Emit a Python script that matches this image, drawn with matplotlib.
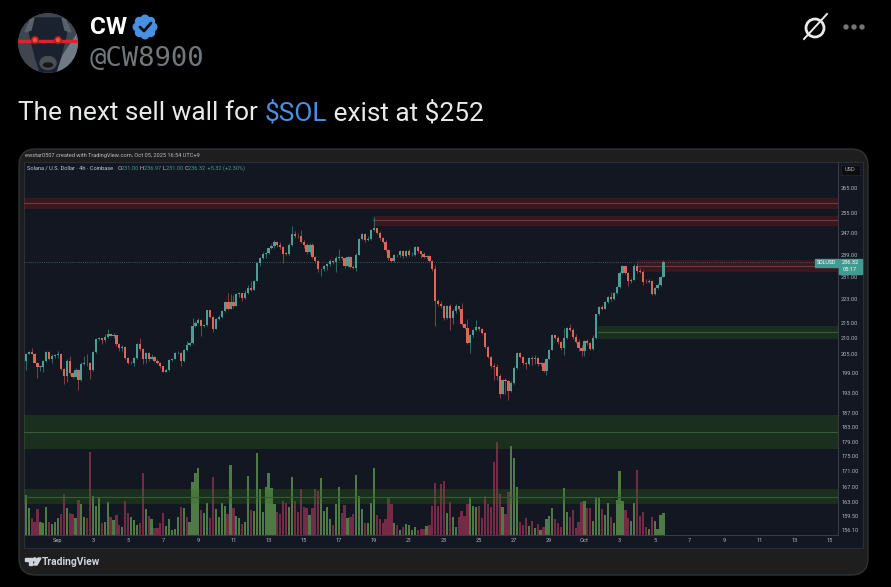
import matplotlib
matplotlib.use("Agg")
import matplotlib.pyplot as plt
from matplotlib.patches import Circle, FancyBboxPatch, Rectangle, Polygon, Ellipse
from matplotlib.ticker import FixedLocator, FixedFormatter, NullLocator

W, H = 891, 587

first_open = 202.7
closes = [
205.1,205.7,205.1,202.2,200.9,200.9,202.7,205.6,203.3,204.3,
204.6,204.9,200.4,198.2,202.9,199.0,197.9,200.0,196.8,201.9,
202.2,202.0,200.0,205.6,209.7,210.0,209.5,210.5,211.5,210.7,
211.0,208.3,207.0,207.3,203.8,202.0,202.2,203.8,208.1,206.5,
203.5,205.4,203.5,204.0,202.7,202.2,201.1,199.5,200.0,203.0,
203.5,205.2,205.4,202.7,206.2,207.8,208.4,214.2,215.2,216.1,
214.0,214.4,219.3,217.2,212.9,216.3,217.2,219.1,222.0,219.8,
222.0,220.9,224.8,225.2,223.6,225.4,227.1,226.4,229.3,235.9,
237.6,239.3,239.7,241.3,242.4,243.7,242.7,241.9,239.3,239.2,
242.7,246.8,246.0,245.8,243.9,242.7,239.9,242.7,238.2,236.7,
233.6,233.9,235.0,235.6,236.7,236.3,237.9,238.2,237.6,234.8,
238.2,234.4,234.2,239.0,244.9,246.8,244.6,244.8,248.3,248.9,
247.3,245.2,243.9,240.8,237.6,236.5,239.0,238.8,240.2,238.4,
240.4,238.8,239.0,241.9,240.2,239.3,238.2,238.4,236.7,233.6,
222.4,221.4,220.7,216.8,220.7,216.8,219.0,220.7,219.6,214.6,
213.3,208.6,211.0,212.6,213.8,213.2,211.9,207.3,204.1,201.2,
200.8,198.1,192.6,196.8,196.5,193.5,196.0,200.7,205.4,204.1,
202.0,201.7,203.7,203.5,203.7,201.7,202.0,199.6,203.5,206.4,
211.0,210.2,208.8,206.9,210.2,213.3,212.8,210.5,208.8,206.9,
205.9,209.1,208.5,206.6,210.2,217.9,220.5,219.8,222.0,223.9,
223.0,225.3,227.3,232.3,235.0,232.3,229.3,229.9,235.0,232.9,
232.5,229.1,229.0,229.5,224.9,226.9,228.1,231.0,236.32]

highs = [
205.4,205.9,207.0,205.4,202.4,201.3,203.0,205.9,205.9,204.9,
205.1,205.9,205.4,200.6,203.3,204.5,199.2,200.6,200.3,202.4,
204.5,204.9,202.4,205.9,210.0,210.5,210.2,211.3,212.9,211.8,
211.6,211.2,208.6,207.8,207.5,204.1,202.7,204.1,208.4,210.2,
207.0,205.7,205.6,204.9,204.3,203.3,202.4,201.3,200.3,203.3,
203.8,205.6,205.9,205.6,206.7,209.1,208.8,216.6,215.6,216.6,
216.3,214.8,219.5,219.3,217.4,216.6,217.7,219.5,222.5,225.2,
225.0,224.5,225.4,225.6,225.4,226.2,227.9,229.3,229.8,236.2,
238.2,239.9,240.1,241.6,243.1,244.3,243.9,243.6,242.4,240.1,
243.3,249.8,248.0,247.3,248.3,244.6,243.3,243.3,243.3,238.4,
237.0,234.2,235.3,235.9,237.4,237.0,238.4,241.0,238.4,237.8,
238.5,238.4,235.3,239.5,245.2,247.3,247.0,245.8,248.7,253.3,
248.9,248.0,245.6,244.6,241.2,237.8,239.3,239.3,240.6,240.8,
240.8,241.2,240.1,242.2,242.2,240.4,239.9,239.0,238.7,237.0,
235.2,223.0,222.4,221.0,221.0,221.3,219.6,221.3,220.7,221.9,
214.9,216.4,211.3,212.9,216.0,214.0,213.5,212.1,207.5,204.5,
202.0,201.7,198.6,197.2,197.6,197.0,196.5,201.2,205.6,205.6,
204.3,202.4,203.9,204.3,204.8,204.1,202.4,202.4,203.8,206.7,
211.3,211.0,210.8,209.2,213.5,213.8,214.6,213.5,211.3,209.7,
208.0,209.5,209.7,208.9,211.0,218.2,220.7,221.0,222.4,224.1,
225.5,225.5,227.8,232.9,235.2,235.0,232.6,230.5,235.4,236.0,
234.1,233.5,230.1,230.1,229.9,227.3,228.7,231.4,236.97]

lows = [
200.0,204.9,204.9,202.0,197.4,199.8,199.5,202.4,203.0,202.2,
203.8,203.8,200.0,195.8,196.3,198.4,197.4,197.7,193.8,196.6,
201.4,201.1,197.1,199.8,205.4,209.5,208.1,208.8,210.2,210.7,
210.1,207.5,205.9,205.9,203.5,201.7,201.7,201.1,203.3,205.9,
201.7,202.2,202.7,203.3,202.4,201.9,200.6,199.2,199.3,199.8,
202.7,203.3,204.9,201.3,202.4,205.9,207.5,208.1,213.7,215.0,
210.8,213.7,214.0,216.6,212.0,212.9,216.1,216.6,218.8,219.3,
219.6,220.2,221.0,223.8,222.6,223.3,225.0,226.0,226.2,229.3,
235.0,237.4,237.8,239.3,241.0,241.6,241.9,241.2,235.9,238.7,
239.0,242.4,245.2,245.2,243.3,241.6,239.3,239.3,237.6,235.9,
232.5,231.3,233.0,233.4,235.0,235.5,232.5,237.0,237.0,234.2,
234.4,234.2,233.8,233.0,238.7,244.3,243.9,244.2,244.3,248.0,
246.8,244.6,243.3,240.1,237.0,236.2,236.2,238.2,238.2,237.9,
238.2,238.4,238.4,238.5,239.7,237.8,237.6,237.4,236.4,233.0,
214.1,220.6,220.2,216.2,216.4,212.6,214.6,218.4,219.0,214.2,
212.9,208.3,205.2,210.5,212.4,212.4,211.3,207.0,203.8,200.7,
197.0,196.8,191.6,192.6,192.6,190.9,193.3,195.8,200.4,203.7,
201.6,200.2,201.4,201.4,201.7,201.2,201.2,199.3,198.3,203.3,
206.2,209.7,208.2,206.4,204.8,209.7,212.4,209.9,208.4,205.9,
204.5,204.3,208.0,206.4,206.4,209.9,217.6,219.4,219.6,221.9,
222.4,222.8,225.0,227.0,232.1,232.1,227.6,228.7,229.7,232.3,
232.3,228.1,228.9,228.7,224.6,224.4,226.6,227.8,231.0]

volumes = [
120,80,50,40,78,38,37,85,40,32,40,50,63,123,80,65,63,50,105,93,
53,50,250,117,87,110,35,40,100,55,45,60,30,25,102,67,55,45,30,37,
185,78,57,47,22,22,35,65,27,47,15,17,55,83,80,53,40,160,187,200,
75,65,95,52,175,77,53,95,87,63,210,80,57,50,33,38,177,75,73,247,
137,70,143,185,142,93,70,63,102,97,85,175,102,70,137,85,80,60,80,137,
133,170,72,83,47,30,92,145,65,90,50,
53,62,180,117,77,37,35,97,202,60,
48,37,47,112,93,37,30,15,23,32,
30,15,23,15,17,19,27,30,87,155,
87,152,162,67,100,55,25,53,73,57,
93,112,88,83,88,50,118,93,83,220,
280,122,83,63,130,267,230,143,40,30,
52,27,42,20,32,15,23,48,58,80,
47,35,25,140,68,53,75,22,40,100,
103,82,82,43,115,113,78,60,95,53,
35,105,192,103,75,52,43,95,195,57,
70,23,18,53,43,17,60,65]

volume_dirs = ("GGRRRGGGRG" "GGRRGRRGRG" "GRRGGGRGGR" "GRRGRRGGGR" "RGRGRRRRGG"
               "GGGRGRGGGG" "RGGRRGGGGR" "GRGGRGGRGG" "GGGGGGRRRR" "GGRRRRRGRR"
               "RGGGGRGGRRG"
               "RRGGGRGGGR" "RRRRRGRGRG" "GGGRRRGRRR" "RRRGRGGRRR" "RGGGRRRRRR"
               "RRGRRGGGRR" "RGRGRGRGGG" "RRRGGRRRRR" "GRRGGGRGGR" "GGGGRRGGRR"
               "RRGRGGGG")

price_ticks = [265, 255, 247, 239, 231, 223, 215, 210, 205, 199, 193, 187,
               183, 179, 175, 171, 167, 163, 159.5, 156.1]
day_ticks = [0, 2, 4, 6, 8, 10, 12, 14, 16, 18, 20, 22, 24, 26, 28, 30, 32,
             34, 36, 38, 40, 42, 44]
day_labels = ["Sep", "3", "5", "7", "9", "11", "13", "15", "17", "19", "21",
              "23", "25", "27", "29", "Oct", "3", "5", "7", "9", "11", "13", "15"]

# zones: start day, low, high, mid
red_zones = [(-2.0, 256.5, 260.9, 258.7), (17.95, 250.0, 253.7, 252.0), (33.0, 232.5, 237.1, 235.0)]
green_zones = [(30.8, 209.9, 213.9, 212.0), (-2.0, 177.1, 186.5, 181.8), (-2.0, 162.5, 166.3, 164.3)]
last_price = 236.32

BG = "#131722"
UP, DOWN = "#4b9f93", "#df6558"
UP_W, DOWN_W = "#2d6a64", "#84403f"
VOL_UP, VOL_DOWN = "#4d7a45", "#752a45"
FONT = "Roboto"
TXT_SMALL = 4.05

fig = plt.figure(figsize=(W / 100, H / 100), dpi=100, facecolor="black")


def pane_rect(x0, y0, x1, y1):
    return [x0 / W, 1 - y1 / H, (x1 - x0) / W, (y1 - y0) / H]


def overlay(z):
    a = fig.add_axes([0, 0, 1, 1], zorder=z)
    a.set_xlim(0, W)
    a.set_ylim(H, 0)
    a.axis("off")
    a.patch.set_alpha(0)
    return a


back = overlay(0)

# avatar
clip = Circle((48, 43), 30, transform=back.transData)
av = [Circle((48, 43), 30, color="#3f4650"),
      Polygon([(60, 60), (80, 30), (80, 75), (56, 75)], color="#6f7a84"),
      Polygon([(28, 22), (34, 18), (62, 18), (68, 22), (66, 36), (61, 56), (56, 72), (40, 72), (35, 56), (30, 36)],
              color="#1a2230"),
      Polygon([(62, 18), (66, 20), (71, 32), (65, 30)], color="#59616b"),
      Polygon([(34, 18), (30, 20), (25, 32), (31, 30)], color="#59616b"),
      Ellipse((48, 63), 16, 13, color="#4a4f56"),
      Ellipse((48, 65), 9, 4, color="#16181c"),
      Rectangle((18, 40.4), 60, 1.2, color="#d8262a"),
      Circle((35, 40), 3.4, color="#a81d20"),
      Circle((58, 40), 3.4, color="#a81d20"),
      Circle((35, 40), 1.7, color="#ff4a3d"),
      Circle((58, 40), 1.7, color="#ff4a3d")]
for p in av:
    back.add_patch(p)
    p.set_clip_path(clip)

back.text(90, 27.5, "CW", color="white", fontsize=17.5, fontweight="bold", family=FONT, va="center", ha="left")
BLUE = "#4a90e2"
for dx, dy in [(0, -8), (5.7, -5.7), (8, 0), (5.7, 5.7), (0, 8), (-5.7, 5.7), (-8, 0), (-5.7, -5.7)]:
    back.add_patch(Circle((145 + dx, 27 + dy), 3.8, color=BLUE))
back.add_patch(Circle((145, 27), 9, color=BLUE))
back.plot([140, 144, 151], [27, 31, 23], color="#101010", lw=2, solid_capstyle="round")
back.text(90, 59, "@CW8900", color="#71767b", fontsize=19.6, family="DejaVu Sans Mono", va="center", ha="left")

# tweet text, three runs
r = fig.canvas.get_renderer()
TW = 18.9
x = 18
for s, col in [("The next sell wall for ", "#e7e9ea"), ("$SOL", "#4a90e2"), (" exist at $252", "#e7e9ea")]:
    t = back.text(x, 113, s, color=col, fontsize=TW, family=FONT, va="center", ha="left", parse_math=False)
    m = back.text(0, 0, s + ".", fontsize=TW, family=FONT, parse_math=False)
    d = back.text(0, 0, ".", fontsize=TW, family=FONT)
    x += (m.get_window_extent(r).width - d.get_window_extent(r).width)
    m.remove()
    d.remove()

# top right icons
back.add_patch(Circle((815, 28), 9, fill=False, ec="#e7e9ea", lw=2))
back.plot([804, 827], [39, 14], color="#e7e9ea", lw=1.4)
for cx in (846, 854, 862):
    back.add_patch(Circle((cx, 27), 2, color="#71767b"))

# card
back.add_patch(FancyBboxPatch((19, 149), 849, 426, boxstyle="round,pad=0,rounding_size=17",
                              fc="#1e1e1e", ec="#2f3336", lw=1))
back.add_patch(Rectangle((23.5, 161.5), 839, 386, fc=BG, ec="#2a2e39", lw=0.8))
back.text(25, 155.5, "ewstar0507 created with TradingView.com, Oct 05, 2025 16:54 UTC+9", color="#b8bcc4",
          fontsize=TXT_SMALL, family=FONT, va="center", ha="left")

# TradingView mark
back.add_patch(Polygon([(25, 558), (32, 558), (32, 565), (29, 565), (29, 561), (25, 561)], color="#d1d4dc"))
back.add_patch(Polygon([(38, 558), (41, 558), (37, 565), (33.5, 565)], color="#d1d4dc"))
back.add_patch(Circle((34.7, 559.5), 1.6, color="#d1d4dc"))
back.text(42, 561.8, "TradingView", color="#d1d4dc", fontsize=7.4, fontweight="bold", family=FONT, va="center", ha="left")

t0 = -1.83
xs = [t0 + i / 6 for i in range(len(closes))]
opens = [first_open] + closes[:-1]
xlim = ((24 - 57.9) / 17.55, (838 - 57.9) / 17.55)
bar_w = 0.76 / 6

# volume
vax = fig.add_axes(pane_rect(24, 162, 838, 535), zorder=1, facecolor=BG)
vax.bar(xs[:len(volumes)], volumes, width=bar_w, color=[VOL_UP if d == "G" else VOL_DOWN for d in volume_dirs], linewidth=0)
vax.set_xlim(*xlim)
vax.set_ylim(0, 280 * 373 / 93.3)
vax.axis("off")
vax.patch.set_visible(True)

# price
ax = fig.add_axes(pane_rect(24, 162, 838, 535), zorder=2)
ax.patch.set_alpha(0)
ax.set_yscale("log")
ax.set_ylim(154.95, 275.8)
ax.set_xlim(*xlim)
for s in ax.spines.values():
    s.set_visible(False)
ax.spines["right"].set_visible(True)
ax.spines["right"].set_color("#363a45")
ax.spines["bottom"].set_visible(True)
ax.spines["bottom"].set_color("#363a45")
ax.yaxis.tick_right()
ax.yaxis.set_major_locator(FixedLocator(price_ticks))
ax.yaxis.set_major_formatter(FixedFormatter([f"{p:.2f}" for p in price_ticks]))
ax.yaxis.set_minor_locator(NullLocator())
ax.xaxis.set_major_locator(FixedLocator(day_ticks))
ax.xaxis.set_major_formatter(FixedFormatter(day_labels))
ax.xaxis.set_minor_locator(NullLocator())
ax.tick_params(axis="y", length=0, pad=2.2, labelsize=TXT_SMALL, labelcolor="#b2b5be")
ax.tick_params(axis="x", length=0, pad=2.5, labelsize=TXT_SMALL, labelcolor="#b2b5be")
for lab in ax.get_xticklabels() + ax.get_yticklabels():
    lab.set_family(FONT)

for start, lo, hi, mid in red_zones:
    ax.fill_between([start, xlim[1]], lo, hi, color="#a51a1a", alpha=0.27, linewidth=0, zorder=1)
    ax.plot([start, xlim[1]], [mid, mid], color="#6f3a40", lw=0.8, zorder=1.1)
for start, lo, hi, mid in green_zones:
    ax.fill_between([start, xlim[1]], lo, hi, color="#33731a", alpha=0.27, linewidth=0, zorder=1)
    ax.plot([start, xlim[1]], [mid, mid], color="#385c35", lw=0.8, zorder=1.1)

ax.axhline(last_price, color="#3f6f6b", lw=0.6, ls=(0, (1, 1.6)), zorder=1.2)

for xv, o, h, l, c in zip(xs, opens, highs, lows, closes):
    up = c >= o
    ax.vlines(xv, min(l, o, c), max(h, o, c), color=UP_W if up else DOWN_W, lw=0.7, zorder=2)
    ax.add_patch(Rectangle((xv - bar_w / 2, min(o, c)), bar_w, max(abs(c - o), 0.25), fc=UP if up else DOWN, ec="none", zorder=3))

top = overlay(3)
# legend line, one run per colour
TEAL = "#3f9c90"
x = 27
for s, col in [("Solana / U.S. Dollar · 4h · Coinbase   ", "#c5c8cf"), ("O", "#c5c8cf"), ("231.00 ", TEAL),
               ("H", "#c5c8cf"), ("236.97 ", TEAL), ("L", "#c5c8cf"), ("231.00 ", TEAL), ("C", "#c5c8cf"),
               ("236.32 ", TEAL), (" +5.32 (+2.30%)", TEAL)]:
    top.text(x, 168.5, s, color=col, fontsize=TXT_SMALL, family=FONT, va="center", ha="left")
    m = top.text(0, 0, s + ".", fontsize=TXT_SMALL, family=FONT)
    d = top.text(0, 0, ".", fontsize=TXT_SMALL, family=FONT)
    x += m.get_window_extent(r).width - d.get_window_extent(r).width
    m.remove()
    d.remove()

# price tags
top.add_patch(Rectangle((815, 259), 23, 8, color=TEAL))
top.add_patch(Rectangle((838.5, 259), 23, 14.5, color=TEAL))
top.text(826.5, 263, "SOLUSD", color="white", fontsize=3.8, family=FONT, ha="center", va="center")
top.text(850, 263, "236.32", color="white", fontsize=TXT_SMALL, family=FONT, ha="center", va="center")
top.text(850, 269.5, "05:17", color="white", fontsize=TXT_SMALL, family=FONT, ha="center", va="center")
top.add_patch(Rectangle((840.5, 164.5), 19.5, 10, color="#0d0d0f", ec="#23262f", lw=0.5))
top.text(850, 169.7, "USD", color="#b2b5be", fontsize=TXT_SMALL, family=FONT, ha="center", va="center")

fig.savefig("out.png", dpi=100, facecolor="black")
